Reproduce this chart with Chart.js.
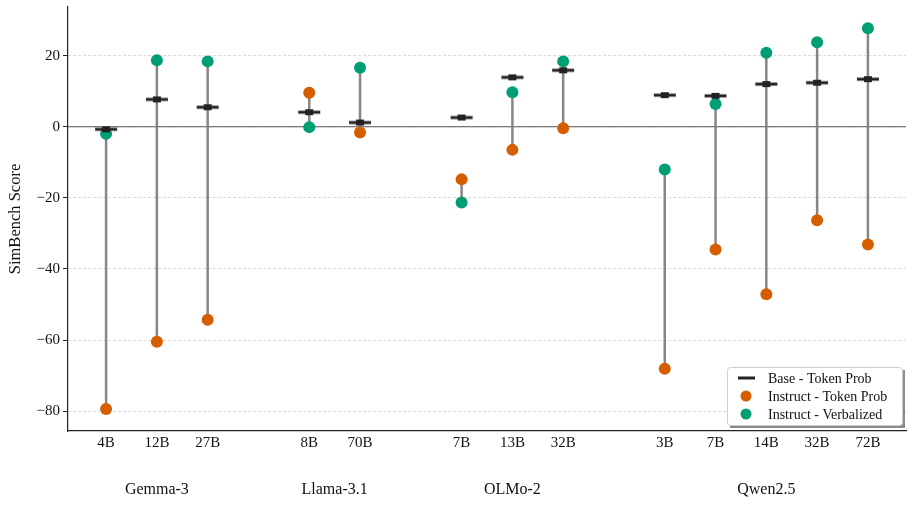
<!DOCTYPE html>
<html>
<head>
<meta charset="utf-8">
<script src="https://cdn.jsdelivr.net/npm/chart.js@4.4.1/dist/chart.umd.min.js"></script>
<style>
  html, body { margin: 0; padding: 0; background: #fff; }
  #wrap { width: 914px; height: 506px; }
</style>
</head>
<body>
<div id="wrap"><canvas id="simbench" width="914" height="506"></canvas></div>
<script>
// model positions on the x axis (gaps between families)
const xPos = [0, 1, 2, 4, 5, 7, 8, 9, 11, 12, 13, 14, 15];
const sizes = ["4B", "12B", "27B", "8B", "70B", "7B", "13B", "32B", "3B", "7B", "14B", "32B", "72B"];
const families = ["Gemma-3", "Llama-3.1", "OLMo-2", "Qwen2.5"];
const familyOf = [0, 0, 0, 1, 1, 2, 2, 2, 3, 3, 3, 3, 3];

const baseToken = [-0.7, 7.7, 5.5, 4.1, 1.2, 2.6, 13.9, 15.9, 8.9, 8.7, 12.0, 12.4, 13.4];
const instructToken = [-79.4, -60.5, -54.3, 9.6, -1.6, -14.8, -6.5, -0.4, -68.1, -34.5, -47.1, -26.3, -33.1];
const instructVerbal = [-2.0, 18.7, 18.4, -0.1, 16.6, -21.3, 9.7, 18.4, -12.0, 6.4, 20.8, 23.8, 27.7];

const yTicks = [-80, -60, -40, -20, 0, 20];

const FONT = "'Liberation Serif', 'DejaVu Serif', serif";
const ORANGE = "#D55E00";
const GREEN = "#009E73";

// base marker: short thick bar with a block in the middle
function baseMarker() {
  const c = document.createElement("canvas");
  c.width = 24; c.height = 8;
  const g = c.getContext("2d");
  g.fillStyle = "#222";
  g.fillRect(1, 2.5, 22, 3);
  g.fillRect(8, 1, 8, 6);
  return c;
}
const baseImg = baseMarker();

const connectors = [];
xPos.forEach((x, i) => {
  connectors.push({x: x, y: instructToken[i]});
  connectors.push({x: x, y: instructVerbal[i]});
  connectors.push({x: x, y: null});
});

const extrasPlugin = {
  id: "extras",
  afterDraw(chart) {
    const ctx = chart.ctx;
    const xs = chart.scales.x;
    // family labels under the size ticks
    ctx.save();
    ctx.font = "16px " + FONT;
    ctx.fillStyle = "#111";
    ctx.textAlign = "center";
    ctx.textBaseline = "middle";
    families.forEach((name, f) => {
      const members = xPos.filter((x, i) => familyOf[i] === f);
      const mid = members.reduce((a, b) => a + b, 0) / members.length;
      ctx.fillText(name, xs.getPixelForValue(mid), 490);
    });

    // legend box in the lower right
    const bx = 727, by = 367, bw = 175, bh = 58;
    ctx.fillStyle = "rgba(0,0,0,0.45)";
    ctx.fillRect(bx + 3, by + 3, bw, bh);
    ctx.fillStyle = "#fff";
    ctx.strokeStyle = "#cfcfcf";
    ctx.lineWidth = 1;
    ctx.beginPath();
    ctx.roundRect(bx + 0.5, by + 0.5, bw, bh, 3);
    ctx.fill();
    ctx.stroke();

    const items = [chart.data.datasets[3], chart.data.datasets[1], chart.data.datasets[2]];
    ctx.font = "14px " + FONT;
    ctx.textAlign = "left";
    items.forEach((ds, k) => {
      const cy = by + 11 + k * 18;
      if (k === 0) {
        ctx.fillStyle = "#222";
        ctx.fillRect(738, cy - 1.5, 17, 3);
      } else {
        ctx.fillStyle = ds.backgroundColor;
        ctx.beginPath();
        ctx.arc(746, cy, 5.5, 0, Math.PI * 2);
        ctx.fill();
      }
      ctx.fillStyle = "#111";
      ctx.fillText(ds.label, 768, cy + 1);
    });
    ctx.restore();
  }
};

new Chart(document.getElementById("simbench"), {
  type: "scatter",
  data: {
    datasets: [{
        label: "connect",
        data: connectors,
        showLine: true,
        spanGaps: false,
        borderColor: "rgba(128,128,128,0.95)",
        borderWidth: 2.5,
        pointRadius: 0,
        order: 10
      },
      {
        label: "Instruct - Token Prob",
        data: xPos.map((x, i) => ({x: x, y: instructToken[i]})),
        backgroundColor: ORANGE,
        borderWidth: 0,
        pointRadius: 6,
        order: 2
      },
      {
        label: "Instruct - Verbalized",
        data: xPos.map((x, i) => ({x: x, y: instructVerbal[i]})),
        backgroundColor: GREEN,
        borderWidth: 0,
        pointRadius: 6,
        order: 1
      },
      {
        label: "Base - Token Prob",
        data: xPos.map((x, i) => ({x: x, y: baseToken[i]})),
        pointStyle: baseImg,
        order: 0
      },
      {
        label: "zero",
        data: [{x: -0.75, y: 0}, {x: 15.75, y: 0}],
        showLine: true,
        borderColor: "#555",
        borderWidth: 1.1,
        pointRadius: 0,
        order: 11
      }
    ]
  },
  options: {
    responsive: false,
    animation: false,
    events: [],
    layout: { padding: { top: 7, right: 8, left: 0, bottom: 0 } },
    plugins: { legend: { display: false }, tooltip: { enabled: false } },
    scales: {
      x: {
        type: "linear",
        min: -0.75,
        max: 15.75,
        afterFit: (s) => { s.height = 75; s.paddingLeft = 0; s.paddingRight = 0; },
        afterBuildTicks: (s) => { s.ticks = xPos.map(v => ({value: v})); },
        grid: { display: false, drawTicks: false, tickLength: 0 },
        border: { display: true, color: "#222", width: 1.2 },
        ticks: {
          autoSkip: false,
          maxRotation: 0,
          padding: 3,
          color: "#111",
          font: { family: FONT, size: 15 },
          callback: (v) => { const i = xPos.indexOf(v); return i >= 0 ? sizes[i] : ""; }
        }
      },
      y: {
        min: -85.6,
        max: 33.7,
        afterFit: (s) => { s.width = 68; s.paddingTop = 0; s.paddingBottom = 0; },
        afterBuildTicks: (s) => { s.ticks = yTicks.map(v => ({value: v})); },
        grid: {
          color: "#d0d0d0",
          lineWidth: 0.8,
          tickColor: "#222",
          tickLength: 5,
          tickWidth: 1
        },
        border: { display: true, color: "#222", width: 1.2, dash: [3, 2] },
        title: {
          display: true,
          text: "SimBench Score",
          color: "#111",
          font: { family: FONT, size: 16.5 },
          padding: { top: 6, bottom: 0 }
        },
        ticks: {
          padding: 3,
          color: "#111",
          font: { family: FONT, size: 15 },
          callback: (v) => (v < 0 ? "\u2212" + Math.abs(v) : String(v))
        }
      }
    }
  },
  plugins: [extrasPlugin]
});
</script>
</body>
</html>
